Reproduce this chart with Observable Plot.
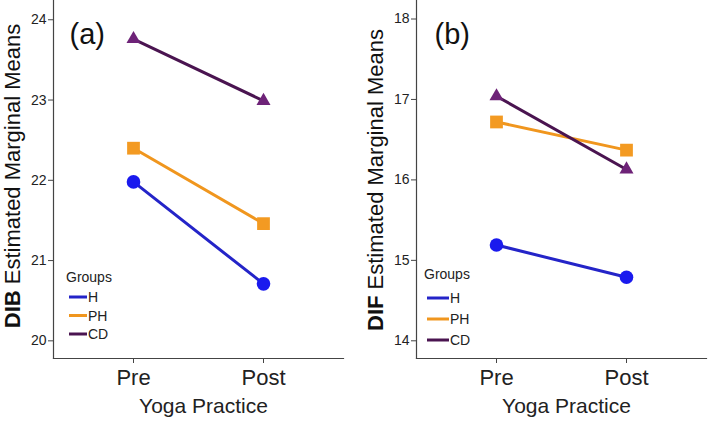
<!DOCTYPE html>
<html>
<head>
<meta charset="utf-8">
<script src="https://cdn.jsdelivr.net/npm/d3@7"></script>
<script src="https://cdn.jsdelivr.net/npm/@observablehq/plot@0.6"></script>
<style>
  html, body { margin: 0; padding: 0; background: #fff; }
  #wrap { display: flex; width: 708px; height: 421px; font-family: "Liberation Sans", Arial, sans-serif; }
  #wrap > div { width: 354px; height: 421px; }
  svg { display: block; }
</style>
</head>
<body>
<div id="wrap"><div id="pa"></div><div id="pb"></div></div>
<script>
const phases = ["Pre", "Post"];
const groups = ["H", "PH", "CD"];
const dibH = [21.98, 20.71];
const dibPH = [22.40, 21.46];
const dibCD = [23.76, 22.99];
const difH = [15.19, 14.79];
const difPH = [16.72, 16.37];
const difCD = [17.04, 16.13];
const dibTicks = [20, 21, 22, 23, 24];
const difTicks = [14, 15, 16, 17, 18];

const lineColor = {H: "#2424c8", PH: "#f0961e", CD: "#4a1450"};
const dotColor = {H: "#1a1aee", PH: "#f39a22", CD: "#6e2378"};
const symbolOf = {H: "circle", PH: "square", CD: "triangle"};
const rOf = {H: 6.8, PH: 7.2, CD: 5.2};

function rows(h, ph, cd) {
  const vals = {H: h, PH: ph, CD: cd};
  const out = [];
  for (const g of groups) phases.forEach((p, i) => out.push({group: g, phase: p, value: vals[g][i]}));
  return out;
}

function panel(opts) {
  const data = rows(...opts.series);
  const marks = [
    Plot.axisY({ticks: opts.ticks, tickFormat: "d", tickSize: 5, tickPadding: 2, fontSize: 14, label: null, stroke: "#444", fill: "#222"}),
    Plot.axisX({tickSize: 5, tickPadding: 6, fontSize: 22, label: null, stroke: "#444", fill: "#222"}),
    Plot.frame({anchor: "left", stroke: "#444", strokeWidth: 1.2}),
    Plot.frame({anchor: "bottom", stroke: "#444", strokeWidth: 1.2})
  ];
  for (const g of opts.lineOrder) {
    marks.push(Plot.line(data.filter(d => d.group === g), {x: "phase", y: "value", stroke: lineColor[g], strokeWidth: 3}));
  }
  for (const g of opts.lineOrder) {
    marks.push(Plot.dot(data.filter(d => d.group === g), {x: "phase", y: "value", symbol: symbolOf[g], r: rOf[g], fill: dotColor[g], stroke: "none"}));
  }
  marks.push(Plot.text([opts.tag], {frameAnchor: "top-left", text: d => d, dx: opts.tagDx, dy: 23, fontSize: 29, fill: "#111", textAnchor: "start", lineAnchor: "top"}));
  marks.push(Plot.text(["Yoga Practice"], {frameAnchor: "bottom", text: d => d, dx: 5, dy: 54, fontSize: 21, fill: "#222"}));
  const svg = Plot.plot({
    width: 354,
    height: 421,
    marginLeft: opts.ml,
    marginRight: opts.mr,
    marginTop: 0,
    marginBottom: 63,
    style: {fontFamily: "'Liberation Sans', Arial, sans-serif", background: "#fff", overflow: "visible"},
    x: {type: "point", domain: phases, padding: 0.615},
    y: {domain: opts.domain},
    marks
  });
  const s = d3.select(svg);
  // y axis title with bold prefix
  const t = s.append("text")
    .attr("transform", `translate(${opts.titleX},${opts.titleY}) rotate(-90)`)
    .attr("text-anchor", "middle")
    .attr("font-size", 22)
    .attr("fill", "#111")
    .attr("font-family", "'Liberation Sans', Arial, sans-serif");
  t.append("tspan").attr("font-weight", "bold").text(opts.prefix);
  t.append("tspan").text(" Estimated Marginal Means");
  // legend
  const lg = s.append("g").attr("font-family", "'Liberation Sans', Arial, sans-serif").attr("fill", "#222").attr("text-anchor", "start");
  lg.append("text").attr("x", opts.legX).attr("y", opts.legY).attr("font-size", 14).attr("text-anchor", "start").text("Groups");
  groups.forEach((g, i) => {
    const y = opts.legY + opts.legFirst + i * opts.legStep;
    lg.append("line").attr("x1", opts.legX + 3).attr("x2", opts.legX + 3 + opts.legLen).attr("y1", y).attr("y2", y)
      .attr("stroke", lineColor[g]).attr("stroke-width", 3);
    lg.append("text").attr("x", opts.legX + 4 + opts.legLen).attr("y", y + 5).attr("font-size", 14).attr("text-anchor", "start").text(g);
  });
  return svg;
}

document.getElementById("pa").appendChild(panel({
  series: [dibH, dibPH, dibCD], ticks: dibTicks, domain: [19.78, 24.24],
  ml: 53, mr: 11, tag: "(a)", tagDx: 16, prefix: "DIB", titleX: 20, titleY: 176,
  legX: 66, legY: 282, legFirst: 15, legStep: 18.5, legLen: 18, lineOrder: ["H", "PH", "CD"]
}));
document.getElementById("pb").appendChild(panel({
  series: [difH, difPH, difCD], ticks: difTicks, domain: [13.78, 18.23],
  ml: 62, mr: 2, tag: "(b)", tagDx: 18, prefix: "DIF", titleX: 29, titleY: 180,
  legX: 70, legY: 279, legFirst: 19, legStep: 21, legLen: 22, lineOrder: ["H", "PH", "CD"]
}));
</script>
</body>
</html>
